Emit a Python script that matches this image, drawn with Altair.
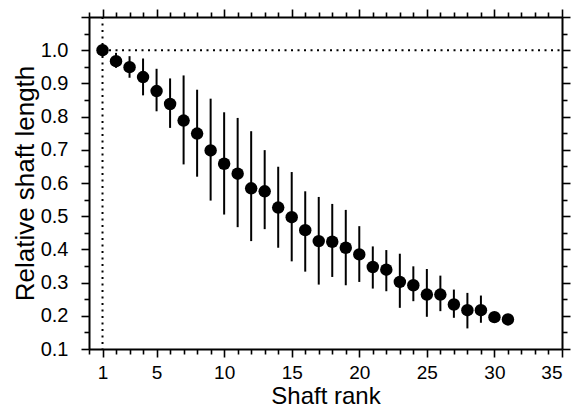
import altair as alt
import pandas as pd

rank = list(range(1, 32))
mean = [1.0, 0.967, 0.949, 0.919, 0.877, 0.838, 0.788, 0.749, 0.698, 0.658,
        0.628, 0.584, 0.575, 0.526, 0.497, 0.458, 0.425, 0.423, 0.405, 0.385,
        0.347, 0.339, 0.302, 0.292, 0.264, 0.264, 0.234, 0.217, 0.217, 0.196, 0.189]
upper = [None, 0.992, 0.982, 0.975, 0.944, 0.915, 0.924, 0.881, 0.854, 0.813,
         0.796, 0.756, 0.699, 0.649, 0.633, 0.575, 0.558, 0.537, 0.519, 0.470,
         0.409, 0.398, 0.387, 0.349, 0.341, 0.321, 0.279, 0.269, 0.261, None, None]
lower = [None, 0.947, 0.917, 0.864, 0.816, 0.766, 0.656, 0.619, 0.547, 0.505,
         0.467, 0.425, 0.461, 0.405, 0.364, 0.333, 0.294, 0.317, 0.292, 0.302,
         0.282, 0.274, 0.224, 0.244, 0.197, 0.214, 0.194, 0.162, 0.179, None, None]

x_ticks = list(range(0, 36))
y_ticks = [round(0.1 + 0.05 * i, 2) for i in range(21)]
ref_rank = [1]
ref_level = [1.0]

df = pd.DataFrame({"rank": rank, "mean": mean, "lo": lower, "hi": upper})

FONT = "Liberation Sans"
x_major = "datum.value === 1 || (datum.value > 0 && datum.value % 5 === 0)"
y_major = "abs(round(datum.value * 10) - datum.value * 10) < 0.001"

xs = alt.Scale(domain=[0, 35], nice=False, zero=False)
ys = alt.Scale(domain=[0.1, 1.1], nice=False, zero=False)


def x_axis(orient, labels):
    if labels:
        kw = dict(title="Shaft rank", titleFont=FONT, titleFontSize=24,
                  titleFontWeight="normal", titleColor="black",
                  titleY=54, titleBaseline="alphabetic")
    else:
        kw = dict(title=None)
    return alt.Axis(
        orient=orient, values=x_ticks, labels=labels,
        labelExpr="(" + x_major + ") ? datum.label : ''",
        tickSize={"condition": {"test": x_major, "value": 8}, "value": 5},
        tickWidth=1.6, tickColor="black", domainColor="black", domainWidth=2,
        grid=False, labelFont=FONT, labelFontSize=19, labelColor="black",
        labelPadding=6, labelOverlap=False, **kw,
    )


def y_axis(orient, labels):
    if labels:
        kw = dict(title="Relative shaft length", titleFont=FONT, titleFontSize=26,
                  titleFontWeight="normal", titleColor="black",
                  titleX=-64, titleBaseline="middle")
    else:
        kw = dict(title=None)
    return alt.Axis(
        orient=orient, values=y_ticks, labels=labels,
        labelExpr="(" + y_major + ") && datum.value < 1.05 ? format(datum.value, '.1f') : ''",
        tickSize={"condition": {"test": y_major, "value": 8}, "value": 5},
        tickWidth=1.6, tickColor="black", domainColor="black", domainWidth=2,
        grid=False, labelFont=FONT, labelFontSize=20, labelColor="black",
        labelPadding=13, labelOverlap=False, **kw,
    )


base = alt.Chart(df)

points = base.mark_circle(size=155, color="black", opacity=1).encode(
    x=alt.X("rank:Q", scale=xs, axis=x_axis("bottom", True)),
    y=alt.Y("mean:Q", scale=ys, axis=y_axis("left", True)),
)

frame = base.mark_circle(opacity=0).encode(
    x=alt.X("rank:Q", scale=xs, axis=x_axis("top", False)),
    y=alt.Y("mean:Q", scale=ys, axis=y_axis("right", False)),
)

bars = base.transform_filter("isValid(datum.lo)").mark_rule(
    color="black", strokeWidth=2
).encode(
    x=alt.X("rank:Q", scale=xs, axis=None),
    y=alt.Y("lo:Q", scale=ys, axis=None),
    y2="hi:Q",
)

vline = alt.Chart(pd.DataFrame({"r": ref_rank})).mark_rule(
    color="black", strokeWidth=2, strokeDash=[2, 4.5]
).encode(x=alt.X("r:Q", scale=xs, axis=None))

hline = alt.Chart(pd.DataFrame({"v": ref_level, "a": [1], "b": [35]})).mark_rule(
    color="black", strokeWidth=2, strokeDash=[2, 4.5]
).encode(
    y=alt.Y("v:Q", scale=ys, axis=None),
    x=alt.X("a:Q", scale=xs, axis=None),
    x2="b:Q",
)

chart = alt.layer(vline, hline, bars, points, frame).resolve_axis(
    x="independent", y="independent"
).properties(
    width=473, height=332,
    autosize=alt.AutoSizeParams(type="none"),
    padding={"left": 81, "top": 9, "right": 10, "bottom": 59},
).configure_view(stroke=None).configure(background="white")

chart.save("out.html", embed_options={"renderer": "svg", "actions": False})
